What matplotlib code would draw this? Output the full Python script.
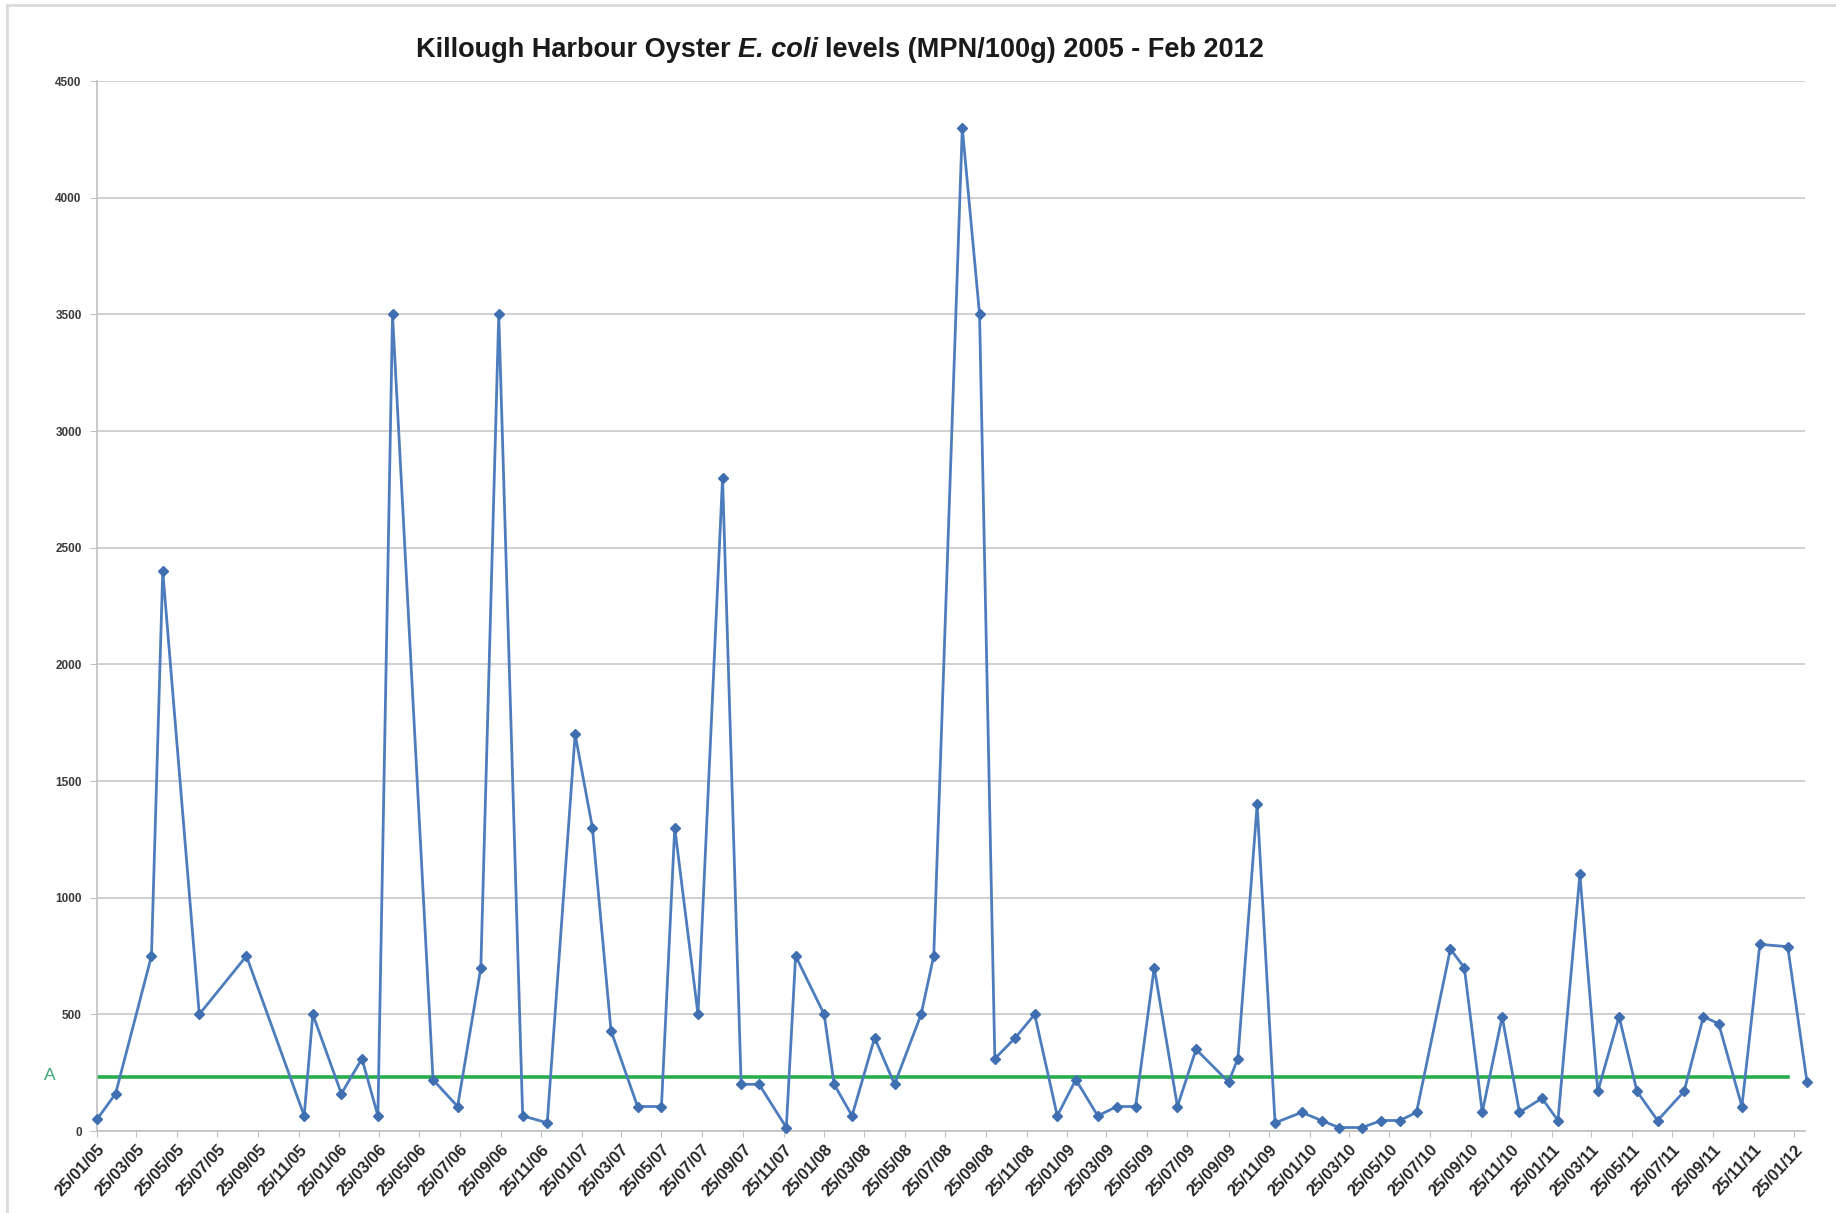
import pandas as pd
import matplotlib
matplotlib.use("Agg")
import matplotlib.pyplot as plt
import matplotlib.dates as mdates
from matplotlib.offsetbox import TextArea, HPacker, AnchoredOffsetbox
from matplotlib.patches import Rectangle

plt.rcParams['font.family'] = ['Liberation Sans', 'DejaVu Sans']

# sampling dates and E. coli results (MPN/100g)
sample_dates = [
    "2005-01-25", "2005-02-22", "2005-04-17", "2005-05-04", "2005-06-28",
    "2005-09-07", "2005-12-03", "2005-12-16", "2006-01-28", "2006-02-28",
    "2006-03-24", "2006-04-15", "2006-06-15", "2006-07-22", "2006-08-26",
    "2006-09-22", "2006-10-28", "2006-12-04", "2007-01-15", "2007-02-10",
    "2007-03-10", "2007-04-19", "2007-05-25", "2007-06-14", "2007-07-19",
    "2007-08-25", "2007-09-22", "2007-10-19", "2007-11-29", "2007-12-13",
    "2008-01-25", "2008-02-09", "2008-03-07", "2008-04-10", "2008-05-10",
    "2008-06-19", "2008-07-08", "2008-08-20", "2008-09-15", "2008-10-08",
    "2008-11-08", "2008-12-07", "2009-01-10", "2009-02-07", "2009-03-12",
    "2009-04-10", "2009-05-08", "2009-06-05", "2009-07-10", "2009-08-07",
    "2009-09-25", "2009-10-09", "2009-11-07", "2009-12-04", "2010-01-13",
    "2010-02-12", "2010-03-10", "2010-04-14", "2010-05-13", "2010-06-10",
    "2010-07-05", "2010-08-25", "2010-09-15", "2010-10-12", "2010-11-11",
    "2010-12-07", "2011-01-10", "2011-02-03", "2011-03-08", "2011-04-04",
    "2011-05-06", "2011-06-02", "2011-07-03", "2011-08-12", "2011-09-10",
    "2011-10-03", "2011-11-07", "2011-12-04", "2012-01-15", "2012-02-13",
]
ecoli = [
    50, 160, 750, 2400, 500,
    750, 65, 500, 160, 310,
    65, 3500, 220, 105, 700,
    3500, 65, 35, 1700, 1300,
    430, 105, 105, 1300, 500,
    2800, 200, 200, 15, 750,
    500, 200, 65, 400, 200,
    500, 750, 4300, 3500, 310,
    400, 500, 65, 220, 65,
    105, 105, 700, 105, 350,
    210, 310, 1400, 35, 80,
    45, 15, 15, 45, 45,
    80, 780, 700, 80, 490,
    80, 140, 45, 1100, 170,
    490, 170, 45, 170, 490,
    460, 105, 800, 790, 210,
]
class_a_limit = 230
y_ticks = [0, 500, 1000, 1500, 2000, 2500, 3000, 3500, 4000, 4500]

dates = pd.to_datetime(sample_dates)

W, H = 1836, 1213
fig = plt.figure(figsize=(W / 100, H / 100), dpi=100)
fig.patch.set_facecolor("white")

# chart frame
fig.add_artist(Rectangle((7 / W, -0.01), 1.0, 1 - 5 / H + 0.01, transform=fig.transFigure,
                         fill=False, edgecolor="#dadada", linewidth=2))

ax = fig.add_axes([97 / W, 1 - 1131 / H, (1805 - 97) / W, (1131 - 81) / H])

ax.plot(dates, ecoli, color="#4d7dbd", linewidth=2, marker="D", markersize=5.5,
        markerfacecolor="#3f6fb0", markeredgecolor="#3f6fb0", zorder=3, clip_on=False)
ax.plot([dates[0], dates[-2]], [class_a_limit, class_a_limit], color="#27ad4c",
        linewidth=2.6, zorder=2)

ax.set_ylim(0, 4500)
ax.set_yticks(y_ticks)
ax.set_xlim(pd.Timestamp("2005-01-25"), pd.Timestamp("2012-02-10"))
ax.xaxis.set_major_locator(mdates.MonthLocator(bymonth=[1, 3, 5, 7, 9, 11], bymonthday=25))
ax.xaxis.set_major_formatter(mdates.DateFormatter("%d/%m/%y"))

ax.grid(axis="y", color="#c8c8c8", linewidth=1.2)
ax.set_axisbelow(True)
for s in ["top", "right"]:
    ax.spines[s].set_visible(False)
for s in ["left", "bottom"]:
    ax.spines[s].set_color("#c0c0c0")
    ax.spines[s].set_linewidth(1.2)

ax.tick_params(axis="y", length=5, color="#c0c0c0", pad=6, labelsize=8.5, labelcolor="#3a3a3a")
ax.tick_params(axis="x", length=4, color="#c0c0c0", pad=4, labelsize=12, labelcolor="#262626")
for lbl in ax.get_yticklabels():
    lbl.set_fontweight("bold")
for lbl in ax.get_xticklabels():
    lbl.set_rotation(47)
    lbl.set_ha("right")
    lbl.set_rotation_mode("anchor")
    lbl.set_fontweight("bold")

# class A marker
fig.text(50 / W, 1 - 1075 / H, "A", color="#3aa878", fontsize=12.5, ha="center", va="center")

# title with italic species name
tp = dict(fontsize=19.5, fontweight="bold", color="#1a1a1a")
parts = [
    TextArea("Killough Harbour Oyster", textprops=tp),
    TextArea("E. coli", textprops=dict(tp, fontstyle="italic")),
    TextArea("levels (MPN/100g) 2005 - Feb 2012", textprops=tp),
]
box = HPacker(children=parts, align="baseline", pad=0, sep=5)
title = AnchoredOffsetbox(loc="center", child=box, pad=0, borderpad=0, frameon=False,
                          bbox_to_anchor=(840 / W, 1 - 50 / H), bbox_transform=fig.transFigure)
fig.add_artist(title)

fig.savefig("out.png", dpi=100)
